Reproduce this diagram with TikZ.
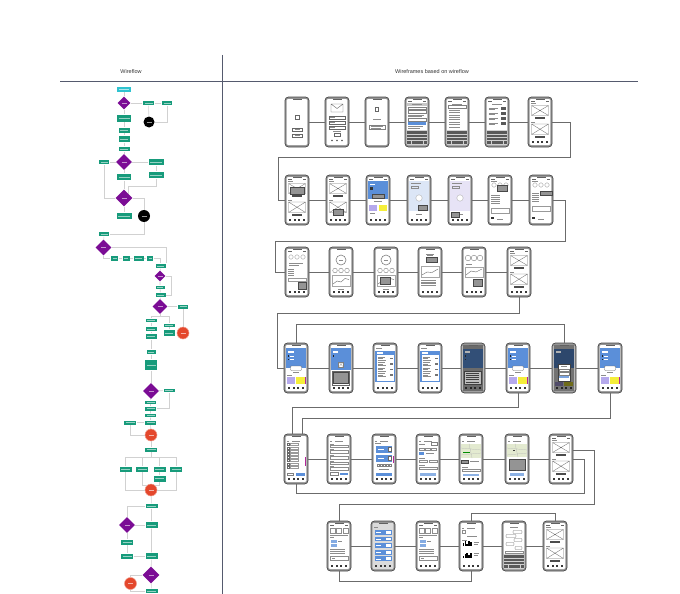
\documentclass[tikz,border=0pt]{standalone}
\usepackage{fontspec}
\setmainfont{Liberation Sans}
\usetikzlibrary{calc,shapes.geometric}
\definecolor{fgreen}{HTML}{179B7B}
\definecolor{fpurple}{HTML}{7B0C95}
\definecolor{fred}{HTML}{E4472C}
\definecolor{fcyan}{HTML}{2FC3D0}
\definecolor{pblue}{HTML}{5B8FD9}
\definecolor{lav}{HTML}{B5A9EC}
\definecolor{yel}{HTML}{F5EE3A}
\definecolor{mag}{HTML}{B3279A}
\definecolor{paleb}{HTML}{DCE6F6}
\definecolor{palel}{HTML}{E7E3F6}
\definecolor{mapg}{HTML}{E3EAD0}
\definecolor{hline}{HTML}{555A6E}
\tikzset{
  fb/.style={fill=fgreen, draw=white, line width=0.2pt, inner sep=0pt, minimum width=12pt, minimum height=5pt,
    path picture={\draw[fgreen!45!white, line width=0.5pt] ([xshift=2pt]path picture bounding box.west) -- ([xshift=-2pt]path picture bounding box.east);}},
  fd/.style={diamond, aspect=1, fill=fpurple, inner sep=0pt, minimum width=#1, minimum height=#1,
    path picture={\draw[fpurple!45!white, line width=0.5pt] ([xshift=-2.5pt]path picture bounding box.center) -- ([xshift=2.5pt]path picture bounding box.center);}},
  fr/.style={circle, fill=fred, draw=fred!55!white, line width=0.5pt, inner sep=0pt, minimum size=12pt,
    path picture={\draw[fred!40!white, line width=0.5pt] ([xshift=-2.5pt]path picture bounding box.center) -- ([xshift=2.5pt]path picture bounding box.center);}},
  fk/.style={circle, fill=black, inner sep=0pt, minimum size=11pt,
    path picture={\draw[black!40, line width=0.5pt] ([xshift=-2.5pt]path picture bounding box.center) -- ([xshift=2.5pt]path picture bounding box.center);}},
  fs/.style={fill=fcyan, draw=white, line width=0.2pt, inner sep=0pt, minimum width=15pt, minimum height=6pt,
    path picture={\draw[fcyan!40!white, line width=0.5pt] ([xshift=2.5pt]path picture bounding box.west) -- ([xshift=-2.5pt]path picture bounding box.east);}},
  fl/.style={draw=black!18, line width=0.6pt},
  pl/.style={draw=black!58, line width=0.8pt},
  hl/.style={draw=hline, line width=0.5pt},
  phone/.style={draw=black!72, fill=black!42, line width=0.7pt, rounded corners=3.5pt, minimum width=24pt, minimum height=50pt, inner sep=0pt},
  hdr/.style={font=\fontsize{5.5}{6.5}\selectfont, text=black!80, inner sep=0pt}
}
% ---------- helpers for screens (local coordinates, y downward) ----------
\newcommand\ptl[3]{\draw[black!45, line width=0.5pt] (#1,#3) -- (#2,#3);}
\newcommand\ppop[4]{\filldraw[fill=black!42, draw=black!72, line width=0.35pt] (#1,#2) rectangle (#3,#4);}
\newcommand\pstat{\fill[black!60] (-9,-21) rectangle (-5.5,-20.2); \fill[black!60] (5.5,-21) rectangle (9,-20.2);}
\newcommand\ptab{\foreach \i in {-7,-2.3,2.3,7}{\fill[black!78] (\i-0.9,18.8) rectangle (\i+0.9,20.8);}}
\newcommand\pxbox[2]{\draw[black!55, line width=0.35pt] (-8.5,#1) rectangle (8.5,#2) (-8.5,#1) -- (8.5,#2) (-8.5,#2) -- (8.5,#1);}
\newcommand\pkbd{\fill[black!18] (-10.3,8) rectangle (10.3,23);
  \foreach \r in {9.3,12.6,15.9}{\foreach \i in {0,...,9}{\fill[black!65] ({-9.7+2*\i},\r) rectangle ++(1.4,2.4);}}
  \fill[black!65] (-9.7,19.3) rectangle (-6.5,21.7); \fill[black!65] (-5.5,19.3) rectangle (5.5,21.7); \fill[black!65] (6.5,19.3) rectangle (9.7,21.7);}
\newcommand\mkphone[4]{%
  \node[phone] (#1) at (#2,#3) {};
  \begin{scope}[shift={(#1.center)}]
    \fill[white, rounded corners=1.2pt] (-10.3,-23) rectangle (10.3,23);
    #4
    \fill[black!62] (-4.5,-23.3) rectangle (4.5,-21.9);
  \end{scope}}
% ---------- screen templates ----------
\newcommand\cHome{\pstat \ptl{-9}{-4}{-18.5} \pxbox{-16.5}{-6.5} \fill[black!70] (-5,-5) rectangle (5,-3.4); \ptl{-9}{-5}{0} \pxbox{2}{12.5} \fill[black!70] (-5,14) rectangle (5,15.6); \ptab}
\newcommand\cLogo{\draw[black!60,line width=0.4pt] (-2,-7) rectangle (2,-2.5); \draw[black!60,line width=0.4pt] (-5,6) rectangle (5,9) (-5,12) rectangle (5,15); \ptl{-2.5}{2.5}{7.5} \ptl{-2.5}{2.5}{13.5}}
\newcommand\cForm{\draw[black!60,line width=0.4pt] (-6,-18) rectangle (6,-10) (-6,-18) -- (0,-13.5) -- (6,-18);
  \foreach \y in {-6,-1,4}{\draw[black!60,line width=0.35pt] (-8,\y) rectangle (8,\y+2.8); \ptl{-7}{-2}{\y+1.4}}
  \ptl{-4}{4}{9.5} \draw[black!60,line width=0.4pt] (-3,11.5) rectangle (3,14.5);
  \foreach \x in {-5,0,5}{\fill[black!70] (\x,18.5) circle (0.9);}}
\newcommand\cLoad{\draw[black!60,line width=0.4pt] (-1.6,-15) rectangle (1.6,-11); \ptl{-4}{4}{-3} \draw[black!50,line width=0.35pt] (-8,3) rectangle (8,7.5); \ptl{-6}{6}{4.6} \ptl{-6}{4}{6.2}}
\newcommand\cKbdForm{\pstat \fill[black!22] (-10.3,-19.5) rectangle (10.3,-16.5); \ptl{-5}{5}{-18}
  \draw[black!50,line width=0.3pt] (-9,-15) rectangle (9,-12.5) (-9,-11.5) rectangle (9,-9);
  \ptl{-9}{7}{-7} \ptl{-9}{5}{-5.3} \draw[black!50,line width=0.3pt] (-9,-3.8) rectangle (9,-1.3);
  \fill[pblue] (-9,0.3) rectangle (9,2.5); \ptl{-9}{6}{4.5} \ptl{-9}{3}{6.3} \pkbd}
\newcommand\cKbdList{\pstat \ptl{-5}{5}{-18} \draw[black!50,line width=0.3pt] (-9,-16.5) rectangle (9,-14);
  \foreach \i in {0,...,7}{\ptl{-8}{3}{-12+2.4*\i}} \pkbd}
\newcommand\cKbdBtn{\pstat \ptl{-5}{5}{-18}
  \foreach \i in {0,...,3}{\ptl{-8.5}{1}{-14+5*\i} \ptl{-8.5}{-2}{-12.4+5*\i} \fill[black!65] (4,{-14.8+5*\i}) rectangle ++(5,2.6);} \pkbd}
\newcommand\cBlueCard{\pstat \fill[pblue] (-10.3,-19) rectangle (10.3,-1); \fill[white] (-8.5,-16.5) rectangle (-3,-15); \fill[black!80] (-8.5,-13) rectangle (-5.5,-10);
  \ppop{-6}{-6}{6}{-1.5} \ptl{-4}{4}{1.5} \fill[lav] (-9,4.5) rectangle (-1,11); \fill[yel] (1,4.5) rectangle (9,11); \ptl{-8}{-3}{13} \ptab}
\newcommand\cPale[1]{\pstat \fill[#1] (-10.3,-19.5) rectangle (10.3,11); \ptl{-8}{2}{-16.5} \draw[black!45,line width=0.3pt] (-8,-13.5) rectangle (-1,-11.5);
  \fill[white] (0,-2) circle (3.2); \draw[black!35, line width=0.3pt] (0,-2) circle (3.2); \ptl{-3}{3}{14.5} \ptab}
\newcommand\cCircTop{\foreach \x in {-6,0,6}{\draw[black!45,line width=0.3pt] (\x,-15) circle (2.2);}}
\newcommand\cPopTop{\pstat \ptl{-9}{-3}{-18.5} \cCircTop \ppop{-3}{-14.5}{7}{-9}
  \foreach \i in {0,...,4}{\ptl{-9}{0}{-5+2*\i}} \draw[black!40, line width=0.3pt] (-9,8) rectangle (9,13); \fill[black!80] (-9,16.5) rectangle (-6.5,18.5); \ptl{-3}{3}{19}}
\newcommand\cPopMid{\pstat \ptl{-9}{-3}{-18.5} \cCircTop \ppop{-1}{-9}{11}{-4.5}
  \foreach \i in {0,...,4}{\ptl{-9}{-2}{-7+2*\i}} \draw[black!40, line width=0.3pt] (-9,6) rectangle (9,11); \fill[black!80] (-9,16.5) rectangle (-6.5,18.5); \ptl{-3}{3}{19}}
\newcommand\cTextPop{\pstat \cCircTop \ptl{-8}{6}{-9} \ptl{-8}{2}{-7} \foreach \i in {0,...,3}{\ptl{-9}{-3}{-3+2*\i}}
  \draw[black!40,line width=0.3pt] (-9,6) rectangle (9,9); \ppop{1}{10}{9}{17} \ptab}
\newcommand\cRings{\draw[black!50,line width=0.6pt] (0,-12) circle (5); \ptl{-2.2}{2.2}{-12} \foreach \x in {-6,0,6}{\draw[black!50,line width=0.4pt] (\x,-1.5) circle (2.3);}
  \draw[black!35,line width=0.3pt] (-9,3) rectangle (9,14); \draw[black!60,line width=0.4pt] (-8,12) -- (-4,9) -- (0,10) -- (4,6.5) -- (8,7.5); \ptl{-3}{3}{17} \ptab}
\newcommand\cChartPop{\ptl{-4}{4}{-18} \ptl{-3}{3}{-16.5} \ppop{-4}{-15}{7}{-9.5} \draw[black!35,line width=0.3pt] (-9,-6) rectangle (9,5);
  \draw[black!60,line width=0.4pt] (-8,3) -- (-3,0) -- (2,0.5) -- (8,-3); \foreach \i in {0,...,3}{\ptl{-9}{6}{8+1.8*\i}} \ptab}
\newcommand\cRingsChartPop{\foreach \x in {-6,0,6}{\draw[black!50,line width=0.4pt] (\x,-14) circle (2.8);} \ptl{-8}{-2}{-8}
  \draw[black!35,line width=0.3pt] (-9,-5) rectangle (9,5); \draw[black!60,line width=0.4pt] (-8,3) -- (-3,-1) -- (2,0) -- (8,-3); \ppop{-1}{7}{8}{14} \ptab}
\newcommand\cDash{\fill[pblue] (-10.3,-20) rectangle (10.3,0); \fill[white] (-8.5,-17) rectangle (-2.5,-15.5);
  \fill[black!85] (-8.5,-13) rectangle (-7,-11.5); \draw[white,line width=0.4pt] (-6,-12.2) -- (-2,-12.2);
  \fill[black!85] (-8.5,-9.5) rectangle (-7,-8); \draw[white,line width=0.4pt] (-6,-8.7) -- (-2,-8.7);
  \filldraw[fill=white,draw=black!60,line width=0.35pt,rounded corners=0.8pt] (-5.5,-2) rectangle (5.5,2.5);
  \ptl{-3}{3}{4.5} \ptl{-9}{-4}{7.5} \fill[lav] (-9.5,9) rectangle (-1,16); \fill[yel] (0,9) rectangle (8.5,16); \fill[mag] (9.2,9) rectangle (10.3,16); \ptab}
\newcommand\cBlueDlg{\fill[pblue] (-10.3,-20) rectangle (10.3,2); \fill[white] (-8.5,-17) rectangle (-3,-15.5); \fill[black!85] (-8.5,-13) rectangle (-7,-11.5);
  \filldraw[fill=white,draw=black!50,line width=0.3pt] (-2.5,-6) rectangle (2.5,-1); \draw[black!50,line width=0.3pt] (-2.5,-6) -- (2.5,-1) (-2.5,-1) -- (2.5,-6);
  \filldraw[fill=white,draw=black!60,line width=0.35pt] (-8.5,3) rectangle (8.5,17); \ppop{-7.5}{4.5}{7.5}{15.5} \ptab}
\newcommand\cBlueList{\ptl{-9}{-3}{-19.5} \fill[pblue] (-10.3,-17.5) rectangle (10.3,14); \fill[white] (-8,-16) rectangle (-2,-14.5);
  \fill[white] (-8.5,-13) rectangle (8.5,12.5);
  \foreach \i in {0,...,3}{\ptl{-7.5}{0}{-11+5.5*\i} \ptl{-7.5}{-2}{-9.5+5.5*\i} \ptl{-7.5}{1}{-8+5.5*\i} \fill[black!55] (5,{-10.5+5.5*\i}) rectangle ++(2.5,1.5);} \ptab}
\newcommand\cDark{\fill[black!58] (-10.3,-23) rectangle (10.3,23); \fill[pblue!55!black] (-10.3,-19) rectangle (10.3,0);
  \fill[black!30] (-8.5,-17) rectangle (-3,-15.5); \fill[black!85] (-8.5,-13) rectangle (-7,-11.5); \fill[black!85] (-8.5,-9.5) rectangle (-7,-8);
  \filldraw[fill=black!25,draw=black!75,line width=0.3pt] (-8.5,3) rectangle (8.5,16);
  \foreach \i in {0,...,4}{\draw[black!75,line width=0.5pt] (-7.5,{5+2.2*\i}) -- (6,{5+2.2*\i});} \foreach \i in {-7,-2.3,2.3,7}{\fill[black!85] (\i-0.9,18.8) rectangle (\i+0.9,20.8);}}
\newcommand\cDarkDlg{\fill[black!55] (-10.3,-23) rectangle (10.3,23); \fill[pblue!50!black] (-10.3,-19) rectangle (10.3,0);
  \fill[black!30] (-8.5,-17) rectangle (-3,-15.5);
  \filldraw[fill=white,draw=black!75,line width=0.35pt] (-6,-4) rectangle (6,13); \ptl{-3}{3}{-1.5}
  \foreach \i in {0,1}{\draw[black!50,line width=0.3pt] (-5,{1+3.3*\i}) rectangle (5,{3.6+3.3*\i});} \fill[pblue!80] (-5,7.6) rectangle (5,10.2);
  \fill[lav!45!black] (-9.5,14) rectangle (-1,17.5); \fill[yel!45!black] (0,14) rectangle (8.5,17.5);
  \foreach \i in {-7,-2.3,2.3,7}{\fill[black!85] (\i-0.9,18.8) rectangle (\i+0.9,20.8);}}
\newcommand\cTitle{\ptl{-9}{-7}{-18} \ptl{-4}{4}{-18}}
\newcommand\cCheck{\cTitle \foreach \i in {0,...,7}{\draw[black!60,line width=0.3pt] (-9,{-15.5+3.2*\i}) rectangle ++(2,2); \draw[black!40,line width=0.3pt] (-6,{-15.5+3.2*\i}) rectangle ++(8,2);}
  \fill[mag] (9.4,-2) rectangle (10.3,7); \draw[black!50,line width=0.3pt] (-9,14) rectangle (-3,16.5); \fill[pblue] (0,14) rectangle (9,16.5); \ptab}
\newcommand\cFormB{\cTitle \foreach \i in {0,...,4}{\ptl{-9}{-5}{-15+5.6*\i} \draw[black!45,line width=0.3pt] (-9,{-14+5.6*\i}) rectangle ++(18,2.5);}
  \draw[black!50,line width=0.3pt] (-9,13.5) rectangle (-1,16); \fill[pblue] (1,13.5) rectangle (9,16); \ptab}
\newcommand\cBigBtn{\cTitle \ptl{-9}{-3}{-15.5} \fill[pblue] (-8,-13) rectangle (8,-6); \filldraw[fill=white,draw=black!60,line width=0.3pt] (4,-11.5) rectangle (7,-7.5);
  \draw[white,line width=0.5pt] (-6,-9.5) -- (0,-9.5); \fill[pblue] (-8,-4) rectangle (8,3); \filldraw[fill=white,draw=black!60,line width=0.3pt] (4,-2.5) rectangle (7,1.5);
  \draw[white,line width=0.5pt] (-6,-0.5) -- (0,-0.5);
  \foreach \x in {-6,-3,...,6}{\draw[black!50,line width=0.3pt] (\x-1,5.5) rectangle ++(2,2);} \fill[mag] (9.4,-3) rectangle (10.3,4);
  \ptl{-5}{5}{10.5} \fill[pblue] (-8,13.5) rectangle (8,16.5); \ptab}
\newcommand\cSettings{\cTitle \ptl{-9}{-3}{-15} \draw[black!50,line width=0.3pt] (3,-16.5) rectangle (9,-13.5);
  \foreach \x in {-9,-3,3}{\draw[black!45,line width=0.3pt] (\x,-11) rectangle ++(5.5,2.5);} \fill[pblue] (-9,-7) rectangle (-4,-4);
  \ptl{-2}{6}{-5.5} \ptl{-9}{-3}{-1} \draw[black!45,line width=0.3pt] (-9,1) rectangle (-1,3.5) (1,1) rectangle (9,3.5);
  \ptl{-9}{-3}{6.5} \draw[black!45,line width=0.3pt] (-9,8) rectangle (9,10.5); \fill[pblue!70] (-8,13.5) rectangle (8,16.5); \ptab}
\newcommand\cMap{\cTitle \fill[mapg] (-10.3,-15.5) rectangle (10.3,-1); \draw[black!30,line width=0.2pt] (-10.3,-11) -- (10.3,-9) (-2,-15.5) -- (1,-1) (-10.3,-4) -- (10.3,-6);
  \draw[green!55!black,line width=0.7pt] (-8,-6.5) -- (-1,-6.5); \ppop{-9.5}{1}{-3}{4.5} \ptl{-1}{8}{2.5} \ptl{-9}{-3}{8}
  \draw[black!45,line width=0.3pt] (-9,10) rectangle (9,12.5); \fill[pblue!70] (-8,14.5) rectangle (8,17); \ptab}
\newcommand\cMapPop{\cTitle \fill[mapg] (-10.3,-15.5) rectangle (10.3,-2); \draw[black!30,line width=0.2pt] (-10.3,-11) -- (10.3,-9) (-2,-15.5) -- (1,-2) (-10.3,-4) -- (10.3,-6);
  \fill[black!75] (-4,-9.5) rectangle (-2.5,-8); \ppop{-8}{0.5}{8}{11} \fill[pblue!70] (-7,13.5) rectangle (7,16.5); \ptab}
\newcommand\cProfile{\pstat \foreach \x in {-9,-2.5,4}{\draw[black!45,line width=0.3pt] (\x,-18) rectangle ++(5,5);} \ptl{-9}{9}{-11} \ptl{-9}{-5}{-8.5}
  \fill[pblue!75] (-8.5,-6.5) rectangle (-2,-3.5); \ptl{-1}{3}{-5} \fill[pblue!75] (-8.5,-2.5) rectangle (-2,0.5);
  \foreach \i in {0,1,2}{\ptl{-9}{6}{3.5+1.8*\i}} \draw[black!45,line width=0.3pt] (-9,10.5) rectangle (9,14); \ptl{-7}{-4}{12.2} \ptab}
\newcommand\cBtnList{\fill[black!14] (-10.3,-23) rectangle (10.3,23); \ptl{-9}{-5}{-19}
  \foreach \i in {0,...,4}{\fill[pblue] (-8.5,{-16+6.6*\i}) rectangle ++(17,4.8); \draw[white,line width=0.5pt] (-7,{-13.6+6.6*\i}) -- ++(5,0); \fill[white] (3,{-15+6.6*\i}) rectangle ++(4.5,2.8);} \ptab}
\newcommand\cBars{\cTitle \draw[black!45,line width=0.3pt] (-9,-15.5) rectangle (-6,-13); \ptl{-4}{6}{-10} \ptl{-9}{-4}{-6}
  \foreach \h [count=\i] in {3,5,2,4.5,3.5}{\fill[black] ({-10+1.8*\i},-0.5) rectangle ++(1.5,-\h);}
  \ptl{2.5}{8}{-4} \ptl{2.5}{6.5}{-2}
  \foreach \h [count=\i] in {2,4,5,3,4.5}{\fill[black] ({-10+1.8*\i},11.5) rectangle ++(1.5,-\h);}
  \ptl{2.5}{8}{7.5} \ptl{2.5}{6.5}{9.5} \ptab}
\newcommand\cChat{\ptl{-4}{4}{-18.5} \draw[black!55,line width=0.3pt,rounded corners=0.8pt] (-1,-15.5) rectangle (8,-12.5) (-8,-11.5) rectangle (2,-8.5) (0,-7.5) rectangle (8,-4.5) (-8,-3.5) rectangle (0,-0.5) (1,0.5) rectangle (8,3.5);
  \draw[black!45,line width=0.3pt] (-9,5) rectangle (9,7); \pkbd}
\begin{document}
\begin{tikzpicture}[x=1pt,y=-1pt]
\useasboundingbox (0,0) rectangle (680,594);
\fill[white] (0,0) rectangle (680,594);
% ---------- frame ----------
\draw[hl] (60,81) -- (638,81);
\draw[hl] (222,55) -- (222,594);
\node[hdr] (h1) at (131,71.5) {Wireflow};
\node[hdr] (h2) at (432,71.5) {Wireframes based on wireflow};
% ---------- wireflow connectors (drawn first, under nodes) ----------
\coordinate (c_s0) at (124,89);
% ---------- wireflow nodes ----------
\node[fs] (s0) at (124,89) {};
\node[fd=13pt] (d1) at (124,103) {};
\node[fb] (b1) at (148.5,103) {};
\node[fb, minimum width=11pt] (b2) at (167,103) {};
\node[fk] (k1) at (149,122) {};
\node[fb, minimum width=15pt, minimum height=8pt] (b3) at (124,118) {};
\node[fb, minimum height=6pt] (b4) at (124,130) {};
\node[fb, minimum height=7pt] (b5) at (124,139) {};
\node[fb] (b6) at (124,149) {};
\node[fd=16pt] (d2) at (124,162) {};
\node[fb, minimum width=11pt] (b7) at (104,162) {};
\node[fb, minimum width=16pt, minimum height=7pt] (b8) at (156,162) {};
\node[fb, minimum width=16pt, minimum height=7pt] (b9) at (156,175) {};
\node[fb, minimum width=15pt, minimum height=7pt] (b10) at (124,177) {};
\node[fd=17pt] (d3) at (124,198) {};
\node[fb, minimum width=16pt, minimum height=7pt] (b11) at (124,216) {};
\node[fk, minimum size=12pt] (k2) at (144,216) {};
\node[fb, minimum width=11pt] (b12) at (104,234) {};
\node[fd=16pt] (d4) at (103.5,247.5) {};
\node[fb, minimum width=8pt, minimum height=6pt] (b13) at (114.5,258) {};
\node[fb, minimum width=8pt, minimum height=6pt] (b14) at (126,258) {};
\node[fb, minimum width=11pt, minimum height=6pt] (b15) at (138.5,258) {};
\node[fb, minimum width=7pt, minimum height=6pt] (b16) at (150,258) {};
\node[fb, minimum width=11pt] (b17) at (160.5,266) {};
\node[fd=11pt] (d5) at (160,276) {};
\node[fb, minimum width=10pt, minimum height=4pt] (b18) at (160,287) {};
\node[fb, minimum width=11pt] (b19) at (160.5,295) {};
\node[fd=15pt] (d6) at (160,306.5) {};
\node[fb, minimum width=11pt] (b20) at (183,306.5) {};
\node[fr] (r1) at (183,333) {};
\node[fb, minimum height=4pt] (b21) at (151,320.5) {};
\node[fb, minimum height=4pt] (b22) at (169,325) {};
\node[fb, minimum height=7pt] (b23) at (169,333) {};
\node[fb] (b24) at (151,329) {};
\node[fb, minimum height=6pt] (b25) at (151,336.5) {};
\node[fb, minimum width=10pt] (b26) at (151,352) {};
\node[fb, minimum width=13pt, minimum height=11pt] (b27) at (151,365) {};
\node[fd=16pt] (d7) at (151,391) {};
\node[fb, minimum height=4pt] (b28) at (169,390.5) {};
\node[fb, minimum height=4pt] (b29) at (150.5,402) {};
\node[fb] (b30) at (150.5,408.5) {};
\node[fb, minimum height=4pt] (b31) at (150.5,415.5) {};
\node[fb] (b32) at (150.5,422.5) {};
\node[fb, minimum width=13pt] (b33) at (130,422.5) {};
\node[fr] (r2) at (151,435) {};
\node[fb, minimum width=13pt] (b34) at (151,449.5) {};
\node[fb, minimum width=13pt, minimum height=6pt] (b35) at (125.5,469) {};
\node[fb, minimum width=13pt, minimum height=6pt] (b36) at (142,469) {};
\node[fb, minimum width=13pt, minimum height=6pt] (b37) at (159.5,469) {};
\node[fb, minimum width=13pt, minimum height=6pt] (b38) at (176,469) {};
\node[fb, minimum width=13pt, minimum height=7pt] (b39) at (159.5,478.5) {};
\node[fr] (r3) at (151,490) {};
\node[fb, minimum width=13pt] (b40) at (151.5,506) {};
\node[fd=16pt] (d8) at (127,525) {};
\node[fb, minimum width=13pt, minimum height=7pt] (b41) at (151.5,525) {};
\node[fb, minimum width=13pt, minimum height=6pt] (b42) at (127,542) {};
\node[fb, minimum width=13pt, minimum height=6pt] (b43) at (127,556) {};
\node[fb, minimum width=13pt, minimum height=7pt] (b44) at (151.5,556) {};
\node[fd=17pt] (d9) at (151,575) {};
\node[fr] (r4) at (130.5,583.5) {};
\node[fb, minimum width=13pt] (b45) at (151.5,591) {};
% ---------- wireflow connectors ----------
\draw[fl] (s0) -- (d1);
\draw[fl] (d1) -- (b1);
\draw[fl] (b1) -- (b2);
\draw[fl] (b2) |- (k1);
\draw[fl] (b1) -- (k1);
\draw[fl] (d1) -- (b3) -- (b4) -- (b5) -- (b6) -- (d2);
\draw[fl] (d2) -- (b7);
\draw[fl] (d2) -- (b8);
\draw[fl] (b8) -- (b9);
\draw[fl] (d2) -- (b10);
\draw[fl] (b10) -- (d3);
\draw[fl] (b7) |- (d3);
\draw[fl] (b9.south) |- ([yshift=7pt]d3.north east) -- (d3.north east);
\draw[fl] (d3) -- (b11);
\draw[fl] (d3) -| (k2);
\draw[fl] (k2) |- (b12);
\draw[fl] (b12) -- (d4);
\draw[fl] (d4) |- (b13);
\draw[fl] (b13) -- (b14) -- (b15) -- (b16);
\draw[fl] (b16) -| (b17);
\draw[fl] (d4) -| (b17.north east);
\draw[fl] (b17) -- (d5) -- (b18) -- (b19);
\draw[fl] (d5) -| ([xshift=5pt]b19.east) -- (b19.east);
\draw[fl] (b19) -- (d6);
\draw[fl] (d6) -- (b20) -- (r1);
\coordinate (j1) at ([yshift=-2.5pt]d6.south);
\draw[fl] (d6.south) -- (j1) -| (b21.north);
\draw[fl] (j1) -| (b22.north);
\draw[fl] (b21) -- (b24) -- (b25) -- (b26) -- (b27) -- (d7);
\draw[fl] (b22) -- (b23);
\draw[fl] (d7) -- (b28);
\draw[fl] (b28) |- (b30);
\draw[fl] (d7) -- (b29) -- (b30) -- (b31) -- (b32) -- (r2);
\draw[fl] (b32) -- (b33);
\draw[fl] (b33) |- (r2);
\draw[fl] (r2) -- (b34);
\coordinate (j2) at ([yshift=-5pt]b34.south);
\draw[fl] (b34) -- (j2);
\draw[fl] (b35.north) |- (j2) -| (b38.north);
\draw[fl] (b36.north) |- (j2);
\draw[fl] (b37.north) |- (j2);
\draw[fl] (b37) -- (b39);
\draw[fl] (b35) |- (r3);
\draw[fl] (b38) |- (r3);
\draw[fl] (b36) |- (r3.north west);
\draw[fl] (b39) |- (r3.north east);
\draw[fl] (r3) -- (b40);
\draw[fl] (b40) -| (d8);
\draw[fl] (b40) -- (b41);
\draw[fl] (d8) -- (b41);
\draw[fl] (d8) -- (b42) -- (b43);
\draw[fl] (b43) -- (b44);
\draw[fl] (b41) -- (b44) -- (d9);
\draw[fl] (d9) -| (r4);
\draw[fl] (d9) -- (b45);
\draw[fl] (r4) |- (b45);
% ---------- phones ----------
\mkphone{p11}{297}{122}{\cLogo}
\mkphone{p12}{337}{122}{\cForm}
\mkphone{p13}{377}{122}{\cLoad}
\mkphone{p14}{417}{122}{\cKbdForm}
\mkphone{p15}{457}{122}{\cKbdList}
\mkphone{p16}{497}{122}{\cKbdBtn}
\mkphone{p17}{540}{122}{\cHome}
\mkphone{p21}{297}{200}{\cHome\ppop{-7}{-13}{7}{-6}}
\mkphone{p22}{338}{200}{\cHome\ppop{-5}{9}{5}{15.5}}
\mkphone{p23}{378}{200}{\cBlueCard}
\mkphone{p24}{419}{200}{\cPale{paleb}\ppop{-1}{5}{8}{10.5}}
\mkphone{p25}{460}{200}{\cPale{palel}\ppop{-9}{12.5}{-1}{17.5}}
\mkphone{p26}{500}{200}{\cPopTop}
\mkphone{p27}{541}{200}{\cPopMid}
\mkphone{p31}{297}{272}{\cTextPop}
\mkphone{p32}{341}{272}{\cRings}
\mkphone{p33}{386}{272}{\cRings\ppop{-6}{5}{4}{12}}
\mkphone{p34}{430}{272}{\cChartPop}
\mkphone{p35}{474}{272}{\cRingsChartPop}
\mkphone{p36}{519}{272}{\cHome}
\mkphone{p41}{296}{368}{\cDash}
\mkphone{p42}{341}{368}{\cBlueDlg}
\mkphone{p43}{385}{368}{\cBlueList}
\mkphone{p44}{430}{368}{\cBlueList}
\mkphone{p45}{473}{368}{\cDark}
\mkphone{p46}{518}{368}{\cDash}
\mkphone{p47}{564}{368}{\cDarkDlg}
\mkphone{p48}{610}{368}{\cDash}
\mkphone{p51}{296}{459}{\cCheck}
\mkphone{p52}{339}{459}{\cFormB}
\mkphone{p53}{384}{459}{\cBigBtn}
\mkphone{p54}{428}{459}{\cSettings}
\mkphone{p55}{471}{459}{\cMap}
\mkphone{p56}{517}{459}{\cMapPop}
\mkphone{p57}{561}{459}{\cHome}
\mkphone{p61}{339}{546}{\cProfile}
\mkphone{p62}{383}{546}{\cBtnList}
\mkphone{p63}{428}{546}{\cProfile}
\mkphone{p64}{471}{546}{\cBars}
\mkphone{p65}{514}{546}{\cChat}
\mkphone{p66}{555}{546}{\cHome}
% ---------- phone connectors ----------
\foreach \a/\b in {p11/p12,p12/p13,p13/p14,p14/p15,p15/p16,p16/p17,
  p21/p22,p22/p23,p23/p24,p24/p25,p25/p26,p26/p27,
  p31/p32,p32/p33,p33/p34,p34/p35,p35/p36,
  p41/p42,p42/p43,p43/p44,p44/p45,p45/p46,p46/p47,p47/p48,
  p51/p52,p52/p53,p53/p54,p54/p55,p55/p56,p56/p57,
  p61/p62,p62/p63,p63/p64,p64/p65,p65/p66}{\draw[pl] (\a) -- (\b);}
\draw[pl] (p17.east) -| (570,157) -| (278,200) -- (p21.west);
\draw[pl] (p27.east) -| (565,241.5) -| (275,272) -- (p31.west);
\draw[pl] (p36.south) |- (277,313) |- (p41.west);
\draw[pl] (p41.north) -- ++(0,-18) -| (p47.north);
\draw[pl] (p46.south) -- ++(0,14) -| ([xshift=-4pt]p51.north);
\draw[pl] (p48.south) -- ++(0,25) -| ([xshift=6pt]p51.north);
\draw[pl] (p51.south) -- ++(0,9) -| ($(p57.east)+(11,0)$) -- (p57.east);
\draw[pl] ([yshift=9pt]p57.east) -- ++(21,0) |- ($(p61.north)+(0,-16)$) -- (p61.north);
\draw[pl] (p61.south) -- ++(0,10) -| (p64.south);
\draw[pl] (p64.north) -- ++(0,-7) -| (p66.north);
\end{tikzpicture}
\end{document}
